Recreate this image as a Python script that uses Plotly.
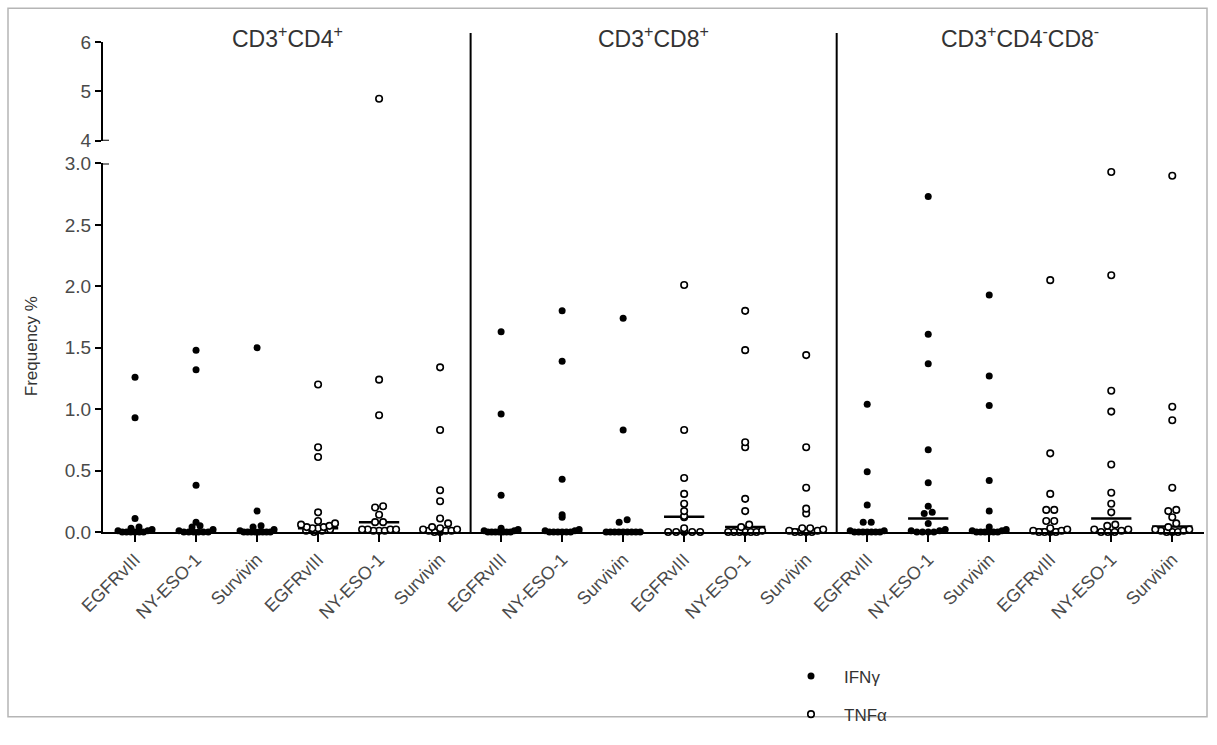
import numpy as np
import plotly.graph_objects as go

# ---------------- data ----------------
antigens = ["EGFRvIII", "NY-ESO-1", "Survivin"]
populations = ["CD3<sup>+</sup>CD4<sup>+</sup>", "CD3<sup>+</sup>CD8<sup>+</sup>",
               "CD3<sup>+</sup>CD4<sup>-</sup>CD8<sup>-</sup>"]
cytokines = ["IFNγ", "TNFα"]

cd4_ifng_egfrviii = [1.26, 0.93, 0.11, 0.04, 0.03, 0.02, 0.01, 0.01, 0, 0, 0, 0, 0, 0]
cd4_ifng_nyeso1 = [1.48, 1.32, 0.38, 0.08, 0.05, 0.04, 0.02, 0.01, 0, 0, 0, 0, 0, 0]
cd4_ifng_survivin = [1.50, 0.17, 0.05, 0.04, 0.02, 0.01, 0, 0, 0, 0, 0, 0, 0, 0]
cd4_tnfa_egfrviii = [1.20, 0.69, 0.61, 0.16, 0.09, 0.07, 0.06, 0.05, 0.04, 0.04, 0.03, 0.03, 0.02, 0.01, 0.01, 0]
cd4_tnfa_nyeso1 = [4.85, 1.24, 0.95, 0.21, 0.20, 0.14, 0.08, 0.08, 0.02, 0.02, 0.02, 0.02, 0.01, 0.01, 0.01]
cd4_tnfa_survivin = [1.34, 0.83, 0.34, 0.25, 0.11, 0.07, 0.04, 0.03, 0.02, 0.02, 0.01, 0.01, 0.01, 0, 0]
cd8_ifng_egfrviii = [1.63, 0.96, 0.30, 0.03, 0.02, 0.01, 0.01, 0, 0, 0, 0, 0, 0, 0]
cd8_ifng_nyeso1 = [1.80, 1.39, 0.43, 0.14, 0.12, 0.02, 0.01, 0.01, 0, 0, 0, 0, 0, 0]
cd8_ifng_survivin = [1.74, 0.83, 0.10, 0.08, 0, 0, 0, 0, 0, 0, 0, 0, 0]
cd8_tnfa_egfrviii = [2.01, 0.83, 0.44, 0.31, 0.23, 0.17, 0.13, 0.12, 0.03, 0, 0, 0, 0, 0]
cd8_tnfa_nyeso1 = [1.80, 1.48, 0.73, 0.69, 0.27, 0.17, 0.06, 0.04, 0.01, 0, 0, 0, 0, 0, 0]
cd8_tnfa_survivin = [1.44, 0.69, 0.36, 0.19, 0.15, 0.03, 0.03, 0.02, 0.01, 0.01, 0, 0, 0, 0]
dn_ifng_egfrviii = [1.04, 0.49, 0.22, 0.08, 0.08, 0.01, 0.01, 0, 0, 0, 0, 0, 0, 0]
dn_ifng_nyeso1 = [2.73, 1.61, 1.37, 0.67, 0.40, 0.21, 0.16, 0.15, 0.07, 0.02, 0.01, 0.01, 0, 0, 0, 0]
dn_ifng_survivin = [1.93, 1.27, 1.03, 0.42, 0.17, 0.04, 0.02, 0.01, 0.01, 0, 0, 0, 0, 0, 0]
dn_tnfa_egfrviii = [2.05, 0.64, 0.31, 0.18, 0.18, 0.09, 0.09, 0.03, 0.02, 0.01, 0.01, 0, 0, 0, 0]
dn_tnfa_nyeso1 = [2.93, 2.09, 1.15, 0.98, 0.55, 0.32, 0.23, 0.16, 0.06, 0.05, 0.02, 0.02, 0.01, 0, 0, 0]
dn_tnfa_survivin = [2.90, 1.02, 0.91, 0.36, 0.18, 0.17, 0.12, 0.07, 0.04, 0.02, 0.02, 0.01, 0.01, 0, 0, 0]

medians = [0, 0, 0, 0.03, 0.08, 0.02,
           0, 0, 0, 0.125, 0.04, 0.02,
           0, 0.11, 0, 0.02, 0.11, 0.045]

groups = [
    cd4_ifng_egfrviii, cd4_ifng_nyeso1, cd4_ifng_survivin,
    cd4_tnfa_egfrviii, cd4_tnfa_nyeso1, cd4_tnfa_survivin,
    cd8_ifng_egfrviii, cd8_ifng_nyeso1, cd8_ifng_survivin,
    cd8_tnfa_egfrviii, cd8_tnfa_nyeso1, cd8_tnfa_survivin,
    dn_ifng_egfrviii, dn_ifng_nyeso1, dn_ifng_survivin,
    dn_tnfa_egfrviii, dn_tnfa_nyeso1, dn_tnfa_survivin,
]
group_cytokine = [0, 0, 0, 1, 1, 1] * 3
tick_labels = antigens * 6

# ---------------- layout geometry ----------------
W, H = 1217, 745
ML, MR, MT, MB = 103, 13, 33, 207
X_RANGE = [-0.525, 17.52]
Y_LOW, Y_HIGH = [0, 3.0], [4, 6]
PLOT_W, PLOT_H = W - ML - MR, H - MT - MB
DOM_LOW = [0, 373 / PLOT_H]
DOM_HIGH = [396 / PLOT_H, 496 / PLOT_H]
px_x = PLOT_W / (X_RANGE[1] - X_RANGE[0])
px_y = PLOT_H * (DOM_LOW[1] - DOM_LOW[0]) / (Y_LOW[1] - Y_LOW[0])


def swarm(vals, center, row_px=6.0, step_px=8.0, max_w=34.0):
    """Prism-like column scatter: points in the same row are spread sideways."""
    vals = sorted(vals)
    rows = {}
    for v in vals:
        rows.setdefault(int(round(v * px_y / row_px)), []).append(v)
    xs, ys = [], []
    for key in sorted(rows):
        r = rows[key]
        k = len(r)
        step = step_px if k < 2 else min(step_px, max_w / (k - 1))
        pos = sorted(range(k), key=lambda j: abs(j - (k - 1) / 2))
        for v, j in zip(r, pos):
            xs.append(center + (j - (k - 1) / 2) * step / px_x)
            ys.append(v)
    return xs, ys


fig = go.Figure()

pts = {0: {"lx": [], "ly": [], "hx": [], "hy": []}, 1: {"lx": [], "ly": [], "hx": [], "hy": []}}
for i, g in enumerate(groups):
    xs, ys = swarm(g, i)
    c = group_cytokine[i]
    for x, y in zip(xs, ys):
        if y > Y_LOW[1]:
            pts[c]["hx"].append(x); pts[c]["hy"].append(y)
        else:
            pts[c]["lx"].append(x); pts[c]["ly"].append(y)

marker_styles = [
    dict(symbol="circle", size=7, color="black", line=dict(width=0)),
    dict(symbol="circle", size=6.5, color="white", line=dict(width=1.6, color="black")),
]

# median bars
mx, my = [], []
for i, m in enumerate(medians):
    mx += [i - 0.33, i + 0.33, None]
    my += [m, m, None]
fig.add_trace(go.Scatter(x=mx, y=my, mode="lines", line=dict(color="black", width=2.5),
                         showlegend=False, hoverinfo="skip", cliponaxis=False))

for c in (0, 1):
    fig.add_trace(go.Scatter(x=pts[c]["lx"], y=pts[c]["ly"], mode="markers",
                             marker=marker_styles[c], name=cytokines[c],
                             legendgroup=cytokines[c], cliponaxis=False))
    if pts[c]["hx"]:
        fig.add_trace(go.Scatter(x=pts[c]["hx"], y=pts[c]["hy"], mode="markers",
                                 marker=marker_styles[c], yaxis="y2", showlegend=False,
                                 legendgroup=cytokines[c], cliponaxis=False))

font_fam = "Liberation Sans, Arial, sans-serif"
tick_col = "#4a4a4a"

axis_common = dict(showline=True, linewidth=2, linecolor="black", ticks="outside",
                   tickwidth=2, tickcolor="black", showgrid=False, zeroline=False)
xfont = dict(family=font_fam, size=18, color=tick_col)
yfont = dict(family=font_fam, size=19, color=tick_col)

fig.update_layout(
    width=W, height=H,
    margin=dict(l=ML, r=MR, t=MT, b=MB),
    paper_bgcolor="white", plot_bgcolor="white",
    xaxis=dict(range=X_RANGE, tickvals=list(range(len(tick_labels))), ticktext=tick_labels,
               tickangle=-45, ticklen=8, anchor="y", tickfont=xfont, **axis_common),
    yaxis=dict(range=Y_LOW, domain=DOM_LOW, tickvals=[0, 0.5, 1.0, 1.5, 2.0, 2.5, 3.0],
               tickformat=".1f", ticklen=6, anchor="x", tickfont=yfont, **axis_common),
    yaxis2=dict(range=Y_HIGH, domain=DOM_HIGH, tickvals=[4, 5, 6], ticklen=6,
                anchor="x", tickfont=yfont, **axis_common),
    showlegend=True,
    legend=dict(x=(778 - ML) / PLOT_W, y=(538 - 666) / PLOT_H, xanchor="left", yanchor="top",
                font=dict(family=font_fam, size=17, color="#333"), tracegroupgap=13,
                itemwidth=56, bgcolor="rgba(0,0,0,0)"),
)

# panel titles
for k, t in enumerate(populations):
    fig.add_annotation(x=6 * k + 2.5, xref="x", y=(538 - 37) / PLOT_H, yref="paper",
                       text=t, showarrow=False, yanchor="middle", xanchor="center",
                       font=dict(family=font_fam, size=23, color="#333"))

fig.add_annotation(x=(31 - ML) / PLOT_W, xref="paper", y=(538 - 350) / PLOT_H, yref="paper",
                   text="Frequency %", textangle=-90, showarrow=False,
                   xanchor="center", yanchor="middle",
                   font=dict(family=font_fam, size=17, color="#333"))

# panel separators
for xs in (5.5, 11.5):
    fig.add_shape(type="line", xref="x", yref="paper", x0=xs, x1=xs, y0=0, y1=1,
                  line=dict(color="black", width=2))
# axis break caps
cap = 6 / PLOT_W
fig.add_shape(type="line", xref="paper", yref="y", x0=0, x1=cap, y0=3.0, y1=3.0,
              line=dict(color="black", width=2))
fig.add_shape(type="line", xref="paper", yref="y2", x0=0, x1=cap, y0=4, y1=4,
              line=dict(color="black", width=2))
# outer frame
fig.add_shape(type="rect", xref="paper", yref="paper",
              x0=(8 - ML) / PLOT_W, x1=(1207 - ML) / PLOT_W,
              y0=(538 - 725) / PLOT_H, y1=(538 - 8) / PLOT_H,
              line=dict(color="#b5b5b5", width=1.5))

fig.write_html("out.html")
